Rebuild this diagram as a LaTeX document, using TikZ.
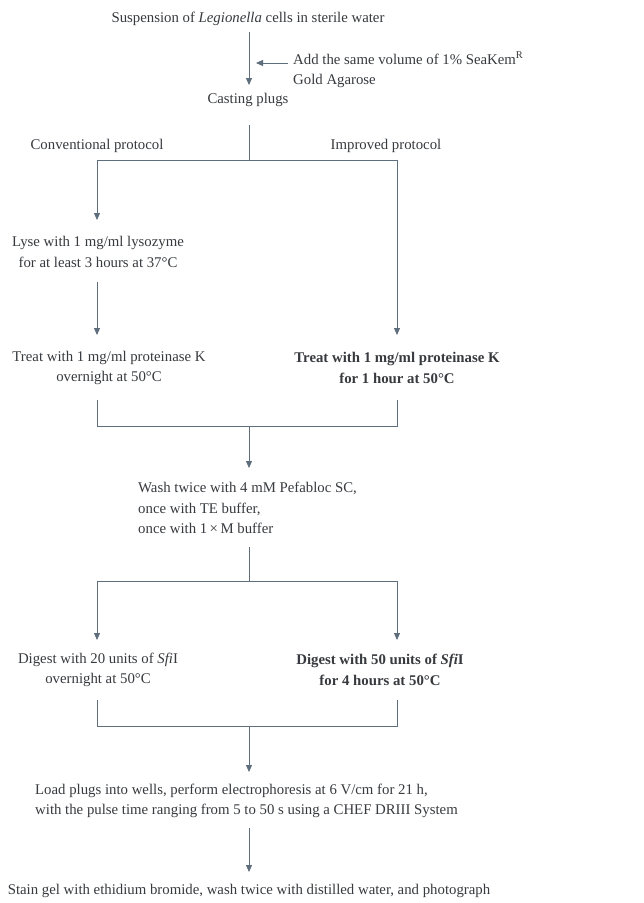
\documentclass[tikz,border=0pt]{standalone}
\usepackage{fontspec}
\setmainfont{Liberation Serif}
\usetikzlibrary{arrows.meta,calc}
\definecolor{txt}{RGB}{55,58,62}
\definecolor{ln}{RGB}{95,110,125}
\begin{document}
\begin{tikzpicture}[x=1pt,y=-1pt,
  every node/.style={inner sep=0pt,text=txt,font=\fontsize{14.8}{20.5}\selectfont},
  lab/.style={align=center},
  labl/.style={align=left},
  conn/.style={draw=ln,line width=0.9pt},
  arr/.style={conn,-{Triangle[length=7pt,width=6pt]}}]
\useasboundingbox (0,0) rectangle (644,903);
\fill[white] (0,0) rectangle (644,903);
% nodes
\node[lab] (top) at (248,19) {Suspension of \textit{Legionella} cells in sterile water};
\node[labl,anchor=west] (add) at (293,70) {Add the same volume of 1\% SeaKem\textsuperscript{R}\\Gold Agarose};
\node[lab] (cast) at (248,100) {Casting plugs};
\node[lab] (conv) at (97,146) {Conventional protocol};
\node[lab] (impr) at (386,146) {Improved protocol};
\node[lab] (lyse) at (98,252) {Lyse with 1 mg/ml lysozyme\\for at least 3 hours at 37°C};
\node[lab] (treatL) at (109,368) {Treat with 1 mg/ml proteinase K\\overnight at 50°C};
\node[lab,font=\fontsize{14.8}{20.5}\selectfont\bfseries] (treatR) at (397,368) {Treat with 1 mg/ml proteinase K\\for 1 hour at 50°C};
\node[labl,anchor=north west] (wash) at (138,482) {Wash twice with 4 mM Pefabloc SC,\\once with TE buffer,\\once with 1\,×\,M buffer};
\node[lab] (digL) at (98,670) {Digest with 20 units of \textit{Sfi}I\\overnight at 50°C};
\node[lab,font=\fontsize{14.8}{20.5}\selectfont\bfseries] (digR) at (380,670) {Digest with 50 units of \textit{Sfi}I\\for 4 hours at 50°C};
\node[labl,anchor=west] (load) at (35,801) {Load plugs into wells, perform electrophoresis at 6 V/cm for 21 h,\\with the pulse time ranging from 5 to 50 s using a CHEF DRIII System};
\node[lab] (stain) at (249,891) {Stain gel with ethidium bromide, wash twice with distilled water, and photograph};
% junctions
\coordinate (srcTop) at (249,32);
\coordinate (tipCast) at (249,85);
\coordinate (addtip) at (256,63);
\coordinate (addsrc) at (288,63);
\coordinate (srcCast) at (249,125);
\coordinate (j1) at (249,160);
\coordinate (j1L) at (97,160);
\coordinate (j1R) at (397,160);
\coordinate (tipLyse) at (97,220);
\coordinate (srcLyse) at (97,282);
\coordinate (tipTL) at (97,335);
\coordinate (tipTR) at (397,335);
\coordinate (srcTL) at (97,400);
\coordinate (srcTR) at (397,400);
\coordinate (j2L) at (97,426);
\coordinate (j2R) at (397,426);
\coordinate (j2) at (249,426);
\coordinate (tipWash) at (249,468);
\coordinate (srcWash) at (249,547);
\coordinate (j3) at (249,581);
\coordinate (j3L) at (97,581);
\coordinate (j3R) at (397,581);
\coordinate (tipDL) at (97,640);
\coordinate (tipDR) at (397,640);
\coordinate (srcDL) at (97,700);
\coordinate (srcDR) at (397,700);
\coordinate (j4L) at (97,726);
\coordinate (j4R) at (397,726);
\coordinate (j4) at (249,726);
\coordinate (tipLoad) at (249,772);
\coordinate (srcLoad) at (249,828);
\coordinate (tipStain) at (249,872);
% connectors
\draw[arr] (srcTop) -- (tipCast);
\draw[arr] (addsrc) -- (addtip);
\draw[conn] (srcCast) -- (j1);
\draw[conn] (j1L) -- (j1R);
\draw[arr] (j1L) -- (tipLyse);
\draw[arr] (srcLyse) -- (tipTL);
\draw[arr] (j1R) -- (tipTR);
\draw[conn] (srcTL) -- (j2L) -- (j2R) -- (srcTR);
\draw[arr] (j2) -- (tipWash);
\draw[conn] (srcWash) -- (j3);
\draw[conn] (j3L) -- (j3R);
\draw[arr] (j3L) -- (tipDL);
\draw[arr] (j3R) -- (tipDR);
\draw[conn] (srcDL) -- (j4L) -- (j4R) -- (srcDR);
\draw[arr] (j4) -- (tipLoad);
\draw[arr] (srcLoad) -- (tipStain);
\end{tikzpicture}
\end{document}
